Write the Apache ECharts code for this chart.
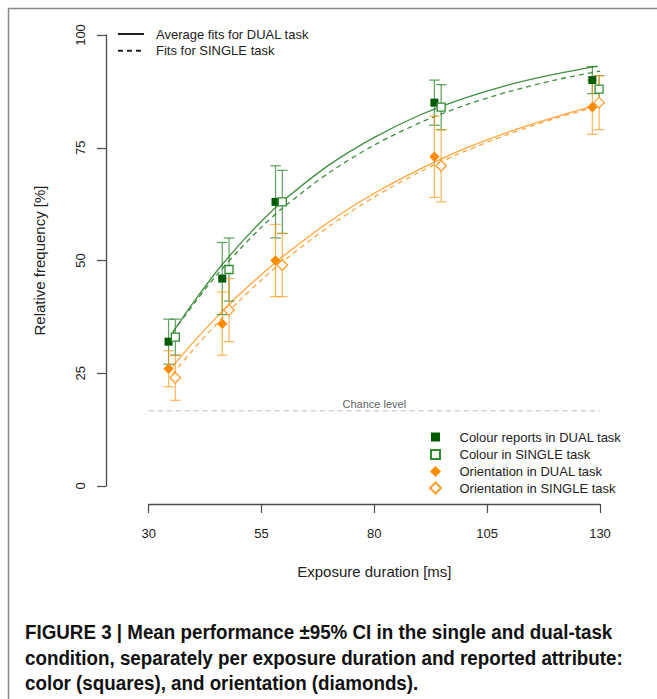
<!DOCTYPE html>
<html><head><meta charset="utf-8">
<script src="https://cdn.jsdelivr.net/npm/echarts/dist/echarts.min.js"></script>
<style>html,body{margin:0;padding:0;background:#fff}#c{width:657px;height:699px}</style>
</head><body><div id="c"></div>
<script>
// ---- data ----
const xTickInterval = 25;
const yTickInterval = 25;
const xDual   = [34.4, 46.3, 58.1, 93.3, 128.3];
const xSingle = [35.9, 47.8, 59.6, 94.8, 129.8];

const colourDual     = [32, 46, 63, 85, 90];
const colourDualLo   = [27, 38, 55, 80, 87];
const colourDualHi   = [37, 54, 71, 90, 93];
const colourSingle   = [33, 48, 63, 84, 88];
const colourSingleLo = [29, 41, 56, 79, 85];
const colourSingleHi = [37, 55, 70, 89, 91];

const orientDual     = [26, 36, 50, 73, 84];
const orientDualLo   = [22, 29, 42, 64, 78];
const orientDualHi   = [30, 43, 58, 82, 90];
const orientSingle   = [24, 39, 49, 71, 85];
const orientSingleLo = [19, 32, 42, 63, 79];
const orientSingleHi = [29, 46, 56, 79, 91];

const fitXDual   = [35.3, 40, 45, 50, 55, 60, 70, 80, 90, 100, 110, 120, 129.4];
const fitXSingle = [35.3, 40, 45, 50, 55, 60, 70, 80, 90, 100, 110, 120, 130];
const fitColourDual   = [34.0, 40.8, 47.5, 53.4, 58.7, 63.4, 71.2, 77.3, 82.2, 86.0, 89.0, 91.3, 93.1];
const fitColourSingle = [34.0, 40.4, 46.7, 52.3, 57.4, 61.9, 69.5, 75.6, 80.5, 84.4, 87.5, 90.0, 92.0];
const fitOrientDual   = [26.5, 32.0, 37.4, 42.4, 46.9, 51.1, 58.6, 64.9, 70.2, 74.8, 78.6, 81.8, 84.5];
const fitOrientSingle = [24.8, 30.4, 35.9, 41.0, 45.7, 50.0, 57.6, 64.1, 69.6, 74.2, 78.1, 81.5, 84.3];

const chanceLevel = 16.67;
const chanceX = [30, 130];
const chanceLabelX = 80;

const names = {
  fitDual: 'Average fits for DUAL task',
  fitSingle: 'Fits for SINGLE task',
  cDual: 'Colour reports in DUAL task',
  cSingle: 'Colour in SINGLE task',
  oDual: 'Orientation in DUAL task',
  oSingle: 'Orientation in SINGLE task'
};
const caption = [
  'FIGURE 3 | Mean performance \u00b195% CI in the single and dual-task',
  'condition, separately per exposure duration and reported attribute:',
  'color (squares), and orientation (diamonds).'
];

// ---- styling ----
const FONT = 'Liberation Sans, Arial, sans-serif';
const AXIS = '#4a4a4a';
const GREEN_FIT = '#3f8f3f', ORANGE_FIT = '#ffa640';
const GREEN_BAR = 'rgba(40,130,40,0.75)', ORANGE_BAR = 'rgba(255,150,20,0.7)';
const DARK_GREEN = '#005a00', GREEN_EDGE = '#2e8b2e';
const ORANGE = '#ff8c00', ORANGE_EDGE = '#ff9d2e';

const zip = (xs, ys) => xs.map((x, i) => [x, ys[i]]);
const zip3 = (xs, a, b) => xs.map((x, i) => [x, a[i], b[i]]);

function errSeries(xs, lo, hi, color) {
  return {
    type: 'custom', z: 3, silent: true,
    encode: { x: 0, y: [1, 2] },
    data: zip3(xs, lo, hi),
    renderItem: function (params, api) {
      const x = api.value(0);
      const a = api.coord([x, api.value(1)]);
      const b = api.coord([x, api.value(2)]);
      const hw = 5.3;
      const st = { stroke: color, lineWidth: 1.2, fill: null };
      return { type: 'group', children: [
        { type: 'line', shape: { x1: a[0], y1: a[1], x2: b[0], y2: b[1] }, style: st },
        { type: 'line', shape: { x1: a[0] - hw, y1: a[1], x2: a[0] + hw, y2: a[1] }, style: st },
        { type: 'line', shape: { x1: b[0] - hw, y1: b[1], x2: b[0] + hw, y2: b[1] }, style: st }
      ]};
    }
  };
}
function fitSeries(xs, ys, color, dashed) {
  return {
    type: 'line', z: 2, silent: true, smooth: 0.3, showSymbol: false, symbol: 'none',
    data: zip(xs, ys),
    lineStyle: { color: color, width: 1.3, type: dashed ? [5, 4] : 'solid' }
  };
}

const chart = echarts.init(document.getElementById('c'), null, { renderer: 'svg' });
const tickStyle = () => ({ show: true, length: 9, lineStyle: { color: AXIS, width: 1.2 } });
const lineStyleAxis = () => ({ show: true, onZero: false, lineStyle: { color: AXIS, width: 1.3 } });
const legendText = (pad) => ({ fontSize: 13, color: '#222', fontFamily: FONT, lineHeight: 14, padding: [0, 0, 0, pad] });
const CAP_SCALE = 0.895;

chart.setOption({
  animation: false,
  backgroundColor: '#fff',
  grid: { left: 148.7, right: 57, top: 35, bottom: 213, containLabel: false, outerBoundsMode: 'none' },
  xAxis: {
    type: 'value', min: 30, max: 130, interval: xTickInterval, offset: 18,
    axisLine: lineStyleAxis(), axisTick: tickStyle(), splitLine: { show: false },
    name: 'Exposure duration [ms]', nameLocation: 'middle', nameGap: 60,
    nameTextStyle: { fontSize: 15, color: '#222', fontFamily: FONT },
    axisLabel: { margin: 23, fontSize: 13, color: '#222', fontFamily: FONT }
  },
  yAxis: {
    type: 'value', min: 0, max: 100, interval: yTickInterval, offset: 42.7,
    axisLine: lineStyleAxis(), axisTick: tickStyle(), splitLine: { show: false },
    name: 'Relative frequency [%]', nameLocation: 'middle', nameGap: 59.5, nameRotate: 90,
    nameTextStyle: { fontSize: 15, color: '#222', fontFamily: FONT },
    axisLabel: { margin: 19.5, rotate: 90, fontSize: 13, color: '#222', fontFamily: FONT }
  },
  legend: [
    { orient: 'vertical', left: 117, top: 27, padding: 0, itemGap: 2.7, itemWidth: 26, itemHeight: 14,
      selectedMode: false, data: [names.fitDual, names.fitSingle], textStyle: legendText(7),
      itemStyle: { color: 'rgba(0,0,0,0)', borderColor: 'rgba(0,0,0,0)', borderWidth: 0 } },
    { orient: 'vertical', left: 430, top: 430, padding: 0, itemGap: 3.5, itemWidth: 9, itemHeight: 9,
      selectedMode: false, data: [names.cDual, names.cSingle], textStyle: legendText(14.5) },
    { orient: 'vertical', left: 429, top: 464.5, padding: 0, itemGap: 2.5, itemWidth: 11, itemHeight: 11,
      selectedMode: false, data: [names.oDual, names.oSingle], textStyle: legendText(13.5) }
  ],
  graphic: [
    { type: 'line', shape: { x1: 8.5, y1: 9, x2: 8.5, y2: 699 }, style: { stroke: '#888', lineWidth: 1.5 } },
    { type: 'line', shape: { x1: 8, y1: 8.5, x2: 657, y2: 8.5 }, style: { stroke: '#888', lineWidth: 1.5 } }
  ].concat(caption.map((t, i) => ({
    type: 'text', x: 25, y: 632 + i * 25.3, scaleX: CAP_SCALE, scaleY: 1,
    style: { text: t, x: 0, y: 0, verticalAlign: 'middle', textVerticalAlign: 'middle',
      font: 'bold 21px "Liberation Sans Narrow", "Liberation Sans", Arial, sans-serif', fill: '#111' }
  }))),
  series: [
    { name: names.fitDual, type: 'line', data: [], symbol: 'none', lineStyle: { color: '#222', width: 1.2 }, itemStyle: { color: '#222' } },
    { name: names.fitSingle, type: 'line', data: [], symbol: 'none', lineStyle: { color: '#222', width: 1.2, type: [5, 4] }, itemStyle: { color: '#222' } },
    { type: 'line', z: 1, silent: true, symbol: 'none', data: zip(chanceX, [chanceLevel, chanceLevel]),
      lineStyle: { color: '#bbb', width: 1, type: [5, 4] } },
    { type: 'scatter', z: 1, silent: true, symbolSize: 0, data: [[chanceLabelX, chanceLevel]],
      label: { show: true, position: 'top', distance: 1, formatter: 'Chance level', fontSize: 11, color: '#333', fontFamily: FONT } },
    fitSeries(fitXDual, fitColourDual, GREEN_FIT, false),
    fitSeries(fitXSingle, fitColourSingle, GREEN_FIT, true),
    fitSeries(fitXDual, fitOrientDual, ORANGE_FIT, false),
    fitSeries(fitXSingle, fitOrientSingle, ORANGE_FIT, true),
    errSeries(xDual, colourDualLo, colourDualHi, GREEN_BAR),
    errSeries(xSingle, colourSingleLo, colourSingleHi, GREEN_BAR),
    errSeries(xDual, orientDualLo, orientDualHi, ORANGE_BAR),
    errSeries(xSingle, orientSingleLo, orientSingleHi, ORANGE_BAR),
    { name: names.cDual, type: 'scatter', z: 4, symbol: 'rect', symbolSize: 8, data: zip(xDual, colourDual),
      itemStyle: { color: DARK_GREEN, borderWidth: 0, opacity: 1 } },
    { name: names.cSingle, type: 'scatter', z: 4, symbol: 'rect', symbolSize: 8, data: zip(xSingle, colourSingle),
      itemStyle: { color: '#fff', borderColor: GREEN_EDGE, borderWidth: 1.3, opacity: 1 } },
    { name: names.oDual, type: 'scatter', z: 4, symbol: 'diamond', symbolSize: 10.5, data: zip(xDual, orientDual),
      itemStyle: { color: ORANGE, borderWidth: 0, opacity: 1 } },
    { name: names.oSingle, type: 'scatter', z: 4, symbol: 'diamond', symbolSize: 10.5, data: zip(xSingle, orientSingle),
      itemStyle: { color: '#fff', borderColor: ORANGE_EDGE, borderWidth: 1.3, opacity: 1 } }
  ]
});
</script></body></html>
